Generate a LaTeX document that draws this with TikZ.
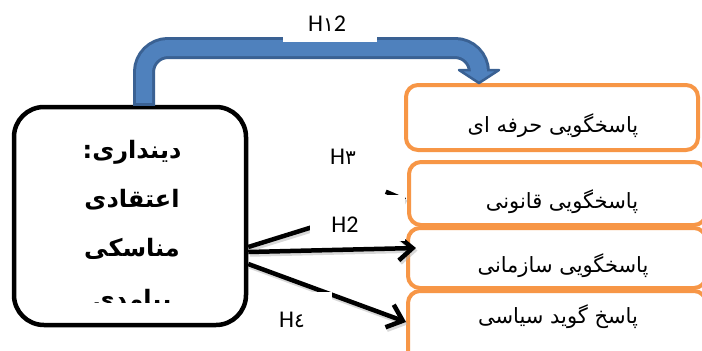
\documentclass[tikz,border=0pt]{standalone}
\usepackage{fontspec}
\setmainfont{Liberation Sans}
\newfontfamily\arabicfont[Script=Arabic]{DejaVu Sans}
\newfontfamily\latinlab{Carlito}
\TeXXeTstate=1
\usetikzlibrary{arrows.meta,calc}
\definecolor{orng}{HTML}{F79646}
\definecolor{bluef}{HTML}{4F81BD}
\definecolor{blued}{HTML}{3A6193}
\begin{document}
\begin{tikzpicture}[x=1pt,y=-1pt,
  obox/.style={draw=orng, line width=4pt, rounded corners=12pt, fill=white, inner sep=0pt},
  otext/.style={anchor=base, font=\arabicfont\fontsize{21}{24}\selectfont, inner sep=0pt},
  btext/.style={anchor=base, font=\arabicfont\bfseries\fontsize{24}{28}\selectfont, inner sep=0pt},
  harrow/.style={line width=4.5pt, -{Straight Barb[length=14pt,width=24pt]}},
  shad/.style={black!30, opacity=0.5, transform canvas={shift={(1.5pt,-2.5pt)}}},
  lab/.style={font=\latinlab\fontsize{24}{28}\selectfont, inner sep=0pt},
  ]
\useasboundingbox (0,0) rectangle (702,351);
\fill[white] (0,0) rectangle (702,351);

% orange boxes
\node[obox, minimum width=292pt, minimum height=65pt] (b1) at (552,117.5) {};
\node[otext] (t1) at (553,132) {\beginR پاسخگویی حرفه ای\endR};
\node[obox, minimum width=297pt, minimum height=63pt] (b2) at (557.5,193.5) {};
\begin{scope}
  \clip (412,150) rectangle (702,214);
  \node[otext] (t2) at (562,208) {\beginR پاسخگویی قانونی\endR};
\end{scope}
\node[obox, minimum width=298pt, minimum height=60pt] (b3) at (557,258) {};
\begin{scope}
  \clip (412,230) rectangle (702,277);
  \node[otext] (t3) at (563,272) {\beginR پاسخگویی سازمانی\endR};
\end{scope}
\node[obox, minimum width=298pt, minimum height=71pt] (b4) at (557,326.5) {};
\node[otext] (t4) at (558,323) {\beginR پاسخ گوید سیاسی\endR};

% black box
\node[draw, line width=4.5pt, rounded corners=30pt, minimum width=232pt, minimum height=218pt, inner sep=0pt] (box) at (130,216) {};
\node[btext] (l1) at (132,158) {\beginR دینداری:\endR};
\node[btext] (l2) at (132,207) {\beginR اعتقادی\endR};
\node[btext] (l3) at (132,256) {\beginR مناسکی\endR};
\begin{scope}
  \clip (20,200) rectangle (240,302);
  \node[btext] (l4) at (132,307) {\beginR پیامدی\endR};
\end{scope}

% blue arrow
\coordinate (bs) at ($(box.north)+(14,1)$);
\coordinate (bc1) at (144,48);
\coordinate (bc2) at (479,48);
\coordinate (bh) at ($(b1.north)+(-73,-13)$);
\coordinate (bt) at ($(b1.north)+(-73,0)$);
\draw[blued, line width=22pt, rounded corners=24pt] (bs) -- (bc1) -- (bc2) -- (bh);
\filldraw[fill=bluef, draw=blued, line width=2.5pt, line join=round]
  ($(bh)+(-20,0)$) -- ($(bh)+(20,0)$) -- (bt) -- cycle;
\draw[bluef, line width=16pt, rounded corners=24pt] ($(bs)+(0,-3)$) -- (bc1) -- (bc2) -- ($(bh)+(0,3)$);
\fill[white] (283,0) rectangle (377,42);
\node[lab] (h1) at (327,24) {H{\arabicfont\fontsize{20}{24}\selectfont ١}2};

% black arrows
\draw[harrow, shad] ($(box.east)+(0,31)$) -- ($(b2.west)+(-1,4.5)$);
\draw[harrow, shad] ($(box.east)+(0,36)$) -- ($(b3.west)+(10,-10)$);
\draw[harrow, shad] ($(box.east)+(0,48)$) -- ($(b4.west)+(0,-4.5)$);
\draw[harrow] ($(box.east)+(0,31)$) -- ($(b2.west)+(-1,4.5)$);
\draw[harrow] ($(box.east)+(0,36)$) -- ($(b3.west)+(10,-10)$);
\draw[harrow] ($(box.east)+(0,48)$) -- ($(b4.west)+(0,-4.5)$);

% label masks and labels
\fill[white] (310,195) rectangle (405,241);
\fill[white] (255,292) rectangle (332,345);
\node[lab] (h3) at (343,157) {H{\arabicfont\fontsize{20}{24}\selectfont ٣}};
\node[lab] (h2) at (345,225) {H2};
\node[lab] (h4) at (292,320) {H{\arabicfont\fontsize{20}{24}\selectfont ٤}};
\end{tikzpicture}
\end{document}
